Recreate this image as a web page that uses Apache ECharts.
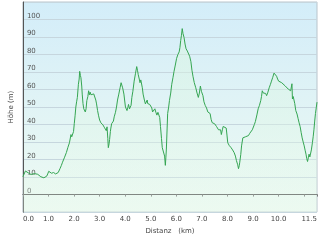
<!DOCTYPE html>
<html>
<head>
<meta charset="utf-8">
<script src="https://cdn.jsdelivr.net/npm/echarts@6/dist/echarts.min.js"></script>
<style>html,body{margin:0;padding:0;background:#fff}#c{width:320px;height:240px}</style>
</head>
<body>
<div id="c"></div>
<script>
const distances = [0.00,0.05,0.10,0.14,0.20,0.26,0.32,0.38,0.45,0.52,0.58,0.64,0.70,0.76,0.82,0.86,0.89,0.93,0.97,1.01,1.06,1.12,1.20,1.28,1.34,1.38,1.45,1.50,1.55,1.62,1.70,1.76,1.82,1.88,1.91,1.94,1.98,2.01,2.04,2.07,2.10,2.13,2.17,2.20,2.22,2.25,2.27,2.30,2.32,2.35,2.38,2.41,2.44,2.47,2.50,2.54,2.57,2.60,2.63,2.66,2.69,2.73,2.77,2.82,2.85,2.88,2.92,2.96,3.00,3.05,3.09,3.13,3.18,3.23,3.26,3.29,3.32,3.34,3.37,3.39,3.42,3.44,3.47,3.50,3.54,3.57,3.62,3.66,3.70,3.75,3.80,3.84,3.86,3.90,3.95,4.01,4.07,4.10,4.13,4.17,4.20,4.23,4.26,4.30,4.35,4.40,4.45,4.48,4.51,4.55,4.58,4.61,4.64,4.67,4.70,4.75,4.79,4.83,4.86,4.88,4.91,4.96,5.01,5.04,5.07,5.12,5.16,5.20,5.24,5.28,5.32,5.35,5.38,5.42,5.45,5.48,5.51,5.54,5.57,5.59,5.61,5.64,5.66,5.70,5.73,5.78,5.82,5.87,5.91,5.96,6.01,6.06,6.11,6.14,6.17,6.20,6.23,6.26,6.30,6.34,6.38,6.43,6.48,6.52,6.57,6.61,6.65,6.70,6.76,6.81,6.86,6.90,6.94,6.98,7.04,7.08,7.13,7.18,7.23,7.27,7.32,7.36,7.40,7.45,7.50,7.54,7.57,7.62,7.65,7.70,7.73,7.76,7.80,7.83,7.89,7.95,7.98,8.01,8.07,8.14,8.20,8.26,8.31,8.35,8.40,8.43,8.46,8.48,8.52,8.55,8.60,8.65,8.70,8.76,8.82,8.87,8.92,8.97,9.01,9.05,9.09,9.15,9.20,9.25,9.30,9.33,9.36,9.40,9.45,9.49,9.53,9.58,9.63,9.68,9.72,9.77,9.82,9.87,9.92,9.96,10.00,10.06,10.12,10.19,10.26,10.32,10.38,10.43,10.47,10.50,10.52,10.54,10.57,10.59,10.63,10.67,10.72,10.76,10.80,10.84,10.88,10.92,10.96,11.00,11.04,11.07,11.10,11.13,11.16,11.19,11.22,11.25,11.28,11.32,11.35,11.38,11.41,11.44,11.47,11.50];
const heights = [10.2,11,13.5,13.9,12.5,12.6,11.5,12.4,12.0,11.2,11.6,10.7,10.2,11.0,9.6,10.4,8.9,10.5,11.8,13.3,12.8,12.2,12.6,11.8,12.2,12.6,14.8,16.5,18.5,21,24,27,29.6,34.3,33,32,36,40.7,45,50,53,55.5,63,66,70.4,68,66.7,62,57.4,52,49,48.5,47.2,49,53.7,56,59.3,57,58.5,57,57.8,56,57.5,56.5,54,51.8,48,45,42.6,41,40.5,39.8,38.5,38,36.5,38.7,32,26.8,29,31.5,36,38,40.5,39.8,42,44.4,47,50,54,57.4,61,63.9,65,61,57.4,50,48,49.5,51.5,49,48,51,55.5,59,64.8,69,73.1,71,68.5,66,63.9,65.5,64.8,61,57.4,54,51.8,52.5,54,52,50.9,51.5,51.8,49.5,47.2,48,49,47,45.4,47,48,44,38.9,32,26.8,27.5,25.9,22,16.7,21,26,38,46.3,50,53.7,58,63,67,70.4,74,77.8,80,81.5,84,88,91,94.8,92,89.8,86,83.3,82,81.5,79,75.9,71,67.6,64,61,58,55.5,58,62,59,56.5,53,50.9,49.5,47.2,48,46.3,43,41.1,41.5,40.4,39.5,38.9,38,37,36.1,37,34.3,37,38.9,39.8,38,34,29.6,28,26.8,25.5,24,22,19.4,17,14.8,16.5,18.5,23,27.8,32.4,32,33,33.2,33.7,35,36.1,37,38,40,41.7,45.5,49,51,53.7,56,59.3,58,57.4,57.8,56.5,58.5,61,63,64.8,67,69.4,68.5,67.6,66,64.8,65,63.9,63,62,61,60.2,60.5,59.3,60,63.3,54.6,56,56.5,52,48,46,43.5,41,38.9,35.5,32.4,30,27.8,25,23.1,20.5,18.9,21,23.1,21.5,22,25.5,29.6,33,37,42,46.3,49.5,52.8];
const yTickLabels = [0,10,20,30,40,50,60,70,80,90,100];
const xTickLabels = [0,1,2,3,4,5,6,7,8,9,10,11.5];

const chart = echarts.init(document.getElementById('c'), null, {renderer:'canvas'});
const font = 'DejaVu Sans';
chart.setOption({
  animation: false,
  textStyle: {fontFamily: font},
  grid: {
    left: 9, right: 3, top: 2, bottom: 22,
    show: true,
    borderColor: '#b8c4cc',
    borderWidth: 1,
    backgroundColor: new echarts.graphic.LinearGradient(0,0,0,1,[
      {offset:0, color:'#d3edf9'},
      {offset:1, color:'#eefaf2'}
    ])
  },
  xAxis: {
    type: 'value', min: 0, max: 11.5, interval: 1,
    name: 'Distanz   (km)', nameLocation: 'middle', nameGap: 13,
    nameTextStyle: {fontSize: 7, color: '#444', fontFamily: font},
    axisLine: {show: true, lineStyle: {color: '#555', width: 1}},
    axisTick: {show: true, length: 2, lineStyle: {color: '#777'}},
    splitLine: {show: false},
    axisLabel: {
      fontSize: 7, color: '#444', margin: 4, fontFamily: font,
      alignMinLabel: 'left', alignMaxLabel: 'right',
      formatter: v => xTickLabels.some(t => Math.abs(t - v) < 1e-6) ? v.toFixed(1) : ''
    }
  },
  yAxis: {
    type: 'value', min: -10, max: 110, interval: 10,
    name: 'Höhe (m)', nameLocation: 'middle', nameGap: 4,
    nameTextStyle: {fontSize: 7, color: '#444', fontFamily: font},
    axisLine: {show: true, lineStyle: {color: '#555', width: 1}},
    axisTick: {show: false},
    splitLine: {show: true, lineStyle: {color: '#c6d6de', width: 1}},
    axisLabel: {
      inside: true, margin: 4, fontSize: 7, color: '#555', fontFamily: font,
      verticalAlign: 'bottom',
      formatter: v => yTickLabels.indexOf(Math.round(v)) >= 0 ? String(Math.round(v)) : ''
    }
  },
  series: [{
    type: 'line',
    data: distances.map((d, i) => [d, heights[i]]),
    showSymbol: false,
    smooth: false,
    lineStyle: {color: '#35a552', width: 1},
    areaStyle: {
      origin: 'start',
      color: new echarts.graphic.LinearGradient(0,0,0,1,[
        {offset:0, color:'rgba(215,245,222,0.7)'},
        {offset:1, color:'rgba(232,250,236,0.4)'}
      ])
    }
  }]
});
</script>
</body>
</html>
